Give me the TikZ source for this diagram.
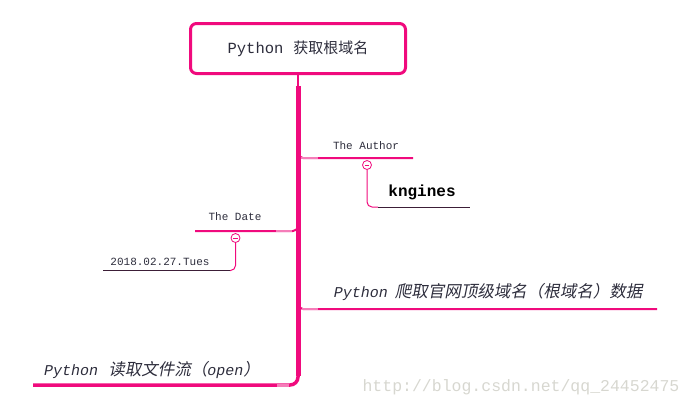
\documentclass[tikz,border=0pt]{standalone}
\usepackage{fontspec}
\setmonofont{Liberation Mono}
\newfontfamily\cjk{Noto Sans CJK SC}
\newfontfamily\cjkit[FakeSlant=0.2]{Noto Sans CJK SC}
\usetikzlibrary{positioning}

\definecolor{mmpink}{RGB}{240,10,125}
\definecolor{mmlight}{RGB}{245,125,185}
\definecolor{txtgray}{RGB}{45,45,60}
\definecolor{leafline}{RGB}{60,30,55}
\definecolor{wmgray}{RGB}{215,215,208}

\begin{document}
\begin{tikzpicture}[x=1pt,y=-1pt,
		every node/.style={inner sep=0pt,text=txtgray},
		root/.style={draw=mmpink,line width=3pt,rounded corners=6pt,fill=white,
			minimum width=215pt,minimum height=50pt},
		branch/.style={draw=mmpink,line width=2pt,rounded corners=5pt},
		light/.style={draw=mmlight,line width=2pt},
		child/.style={draw=mmpink,line width=1pt,rounded corners=5pt},
		label/.style={font=\ttfamily\fontsize{11}{11}\selectfont},
		topic/.style={font=\fontsize{15}{15}\selectfont},
		fold/.style={circle,draw=mmpink,fill=white,line width=0.8pt,minimum size=9pt,
			path picture={\draw[mmpink,line width=0.8pt]
				([xshift=2.2pt]path picture bounding box.west) --
				([xshift=-2.2pt]path picture bounding box.east);}},
		]
		\useasboundingbox (0,0) rectangle (692,408);
		
		% Root
		\node[root] (root) at (298,48.5)
		{{\ttfamily\fontsize{15.5}{15.5}\selectfont Python}\hspace{10pt}{\cjk\fontsize{15}{15}\selectfont 获取根域名}};
		
		% Trunk
		\coordinate (t0) at (298,86);
		\coordinate (t1) at (298,376);
		\draw[mmpink,line width=1.5pt] (root.south) -- (t0);
		\draw[mmpink,line width=5pt] (t0) -- (t1);
		
		% The Author
		\coordinate (ba0) at (298,150);
		\coordinate (ba1) at (413,158);
		\draw[branch] (ba0) |- (ba1);
		\draw[light] (301,158) -- (318,158);
		\node[label] (author) at (366,146) {The Author};
		\node[fold] (fa) at (367,165) {};
		\coordinate (ka) at (378,207);
		\coordinate (kb) at (470,207);
		\draw[child] (fa.south) |- (ka);
		\draw[leafline,line width=1pt] (ka) -- (kb);
		\node[font=\ttfamily\bfseries\fontsize{16}{16}\selectfont,text=black] (kngines) at (422,192) {kngines};
		
		% The Date
		\coordinate (bd0) at (298,223);
		\coordinate (bd1) at (195,231);
		\draw[branch] (bd0) |- (bd1);
		\draw[light] (276,231) -- (292,231);
		\node[label] (date) at (235,217) {The Date};
		\node[fold] (fd) at (235.5,238) {};
		\coordinate (da) at (230,270.5);
		\coordinate (db) at (103,270.5);
		\draw[child] (fd.south) |- (da);
		\draw[leafline,line width=1pt] (da) -- (db);
		\node[label] (day) at (160,262) {2018.02.27.Tues};
		
		% Python topics
		\coordinate (bp0) at (298,300);
		\coordinate (bp1) at (657,309);
		\draw[branch] (bp0) |- (bp1);
		\draw[light] (302,309) -- (318,309);
		\node[topic] (crawl) at (488,292)
		{{\ttfamily\itshape Python}\hspace{7pt}{\cjkit\fontsize{16.5}{16.5}\selectfont 爬取官网顶级域名（根域名）数据}};
		
		\coordinate (bo0) at (298,370);
		\coordinate (bo1) at (33,385);
		\draw[branch,line width=3.5pt,rounded corners=8pt] (bo0) |- (bo1);
		\draw[mmlight,line width=3pt] (277,385) -- (289,385);
		\node[topic] (read) at (152,370)
		{{\ttfamily\itshape Python}\hspace{10pt}{\cjkit\fontsize{16.5}{16.5}\selectfont 读取文件流（{\ttfamily\itshape\fontsize{15}{15}\selectfont open}）}};
		
		% Watermark
		\node[font=\ttfamily\fontsize{16.5}{16.5}\selectfont,text=wmgray] (wm) at (521,387)
		{http://blog.csdn.net/qq\_24452475};
		
	\end{tikzpicture}
\end{document}
